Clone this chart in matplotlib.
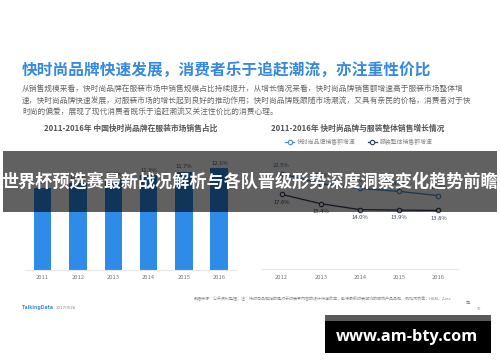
import matplotlib
matplotlib.use("Agg")
import matplotlib.pyplot as plt
from matplotlib.patches import Rectangle

plt.rcParams['font.family'] = ['Noto Sans CJK SC', 'DejaVu Sans']

# ---- data ----
bar_years = ['2011', '2012', '2013', '2014', '2015', '2016']
bar_share = [9.8, 10.4, 10.8, 11.3, 11.7, 12.1]

line_years = ['2012', '2013', '2014', '2015', '2016']
fast_growth = [22.5, 20.1, 19.0, 18.3, 17.3]
overall_growth = [17.6, 15.4, 14.0, 13.9, 13.8]
series_names = ['快时尚品牌销售额增速', '服装整体销售额增速']

title = '快时尚品牌快速发展，消费者乐于追赶潮流，亦注重性价比'
body_lines = [
    '从销售规模来看，快时尚品牌在服装市场中销售规模占比持续提升，从增长情况来看，快时尚品牌销售额增速高于服装市场整体增',
    '速，快时尚品牌快速发展，对服装市场的增长起到良好的推动作用；快时尚品牌既跟随市场潮流，又具有亲民的价格，消费者对于快',
    '时尚的偏爱，展现了现代消费者既乐于追赶潮流又关注性价比的消费心理。',
]
left_title = '2011-2016年 中国快时尚品牌在服装市场销售占比'
right_title = '2011-2016年 快时尚品牌与服装整体销售增长情况'
banner_text = '世界杯预选赛最新战况解析与各队晋级形势深度洞察变化趋势前瞻'
source_text = '数据来源：公开资料整理；注：快时尚品牌指的是对于时装界内容的设计快速反应，能将最新时装潮流的服饰产品品牌，例如优衣库，H&M，Zara'
watermark = 'www.am-bty.com'

W, H = 500, 362
fig = plt.figure(figsize=(5, 3.62), dpi=100)
fig.patch.set_facecolor('white')

def fx(x):
    return x / W

def fy(y):
    return 1 - y / H

# ---- header texts ----
fig.text(fx(22), fy(70), title, fontsize=11.3, fontweight='bold', color='#3589e0',
         ha='left', va='center')
for i, ln in enumerate(body_lines):
    fig.text(fx(22), fy(90 + i * 11.5), ln, fontsize=5.55, color='#666666',
             ha='left', va='center')
fig.text(fx(131), fy(128), left_title, fontsize=5.6, fontweight='bold', color='#555555',
         ha='center', va='center')
fig.text(fx(358), fy(128), right_title, fontsize=5.6, fontweight='bold', color='#555555',
         ha='center', va='center')

# ---- bar chart ----
base = 269.5
top = 150
ax1 = fig.add_axes([fx(25), fy(base), (237 - 25) / W, (base - top) / H])
px_per_pct_bar = 8.35
ax1.set_ylim(0, (base - top) / px_per_pct_bar)
ax1.set_xlim(-0.5, len(bar_years) - 0.5)
bars = ax1.bar(range(len(bar_years)), bar_share, width=0.5, color='#2e8be8')
for i, v in enumerate(bar_share):
    ax1.annotate(f'{v:.1f}%', (i, v), xytext=(0, 3.5), textcoords='offset points',
                 ha='center', va='center', fontsize=4.2, color='#555555')
ax1.set_xticks(range(len(bar_years)))
ax1.set_xticklabels(bar_years, fontsize=4.2, color='#777777')
ax1.tick_params(axis='x', length=0, pad=4)
ax1.set_yticks([])
for s in ['top', 'right', 'left']:
    ax1.spines[s].set_visible(False)
ax1.spines['bottom'].set_color('#e8e8e8')
ax1.spines['bottom'].set_linewidth(0.8)
ax1.patch.set_alpha(0)

# ---- line chart ----
base2 = 269
ax2 = fig.add_axes([fx(262), fy(base2), (458 - 262) / W, (base2 - top) / H])
px_per_pct_line = 4.24
ax2.set_ylim(0, (base2 - top) / px_per_pct_line)
ax2.set_xlim(-0.5, len(line_years) - 0.5)
xs = range(len(line_years))
c_fast = '#4a8cc6'
c_all = '#2e3b58'
ax2.plot(xs, fast_growth, color=c_fast, lw=0.9, marker='o', ms=3.2, mfc='white',
         mec=c_fast, mew=0.8, label=series_names[0])
ax2.plot(xs, overall_growth, color=c_all, lw=0.9, marker='o', ms=3.2, mfc='white',
         mec=c_all, mew=0.8, label=series_names[1])
for i, v in enumerate(fast_growth):
    ax2.annotate(f'{v:.1f}%', (i, v), xytext=(0, 6), textcoords='offset points',
                 ha='center', va='center', fontsize=4.2, color='#3f6f9c')
for i, v in enumerate(overall_growth):
    ax2.annotate(f'{v:.1f}%', (i, v), xytext=(0, -5.5), textcoords='offset points',
                 ha='center', va='center', fontsize=4.2, color='#3a4660')
ax2.set_xticks(list(xs))
ax2.set_xticklabels(line_years, fontsize=4.2, color='#777777')
ax2.tick_params(axis='x', length=0, pad=4)
ax2.set_yticks([])
for s in ['top', 'right', 'left']:
    ax2.spines[s].set_visible(False)
ax2.spines['bottom'].set_color('#e8e8e8')
ax2.spines['bottom'].set_linewidth(0.8)
ax2.patch.set_alpha(0)
leg = ax2.legend(loc='center left', bbox_to_anchor=(fx(285), fy(142)),
                 bbox_transform=fig.transFigure, ncol=2, frameon=False,
                 fontsize=4.2, handlelength=1.6, handletextpad=0.5,
                 columnspacing=2.0, borderpad=0, borderaxespad=0)
for t in leg.get_texts():
    t.set_color('#888888')

# ---- footer ----
fig.text(fx(22), fy(308), 'TalkingData', fontsize=3.3, fontweight='bold',
         color='#4a90d0', ha='left', va='center', family=['DejaVu Sans'])
fig.text(fx(56), fy(308), '2017/9/26', fontsize=2.9, color='#888888',
         ha='left', va='center', family=['DejaVu Sans'])
fig.text(fx(194), fy(299), source_text, fontsize=2.9, color='#888888',
         ha='left', va='center')
fig.text(fx(466), fy(303), '等。', fontsize=2.9, color='#888888', ha='left', va='center')
fig.text(fx(477), fy(309), '35', fontsize=2.9, color='#888888', ha='left', va='center')

# ---- banner overlay ----
fig.add_artist(Rectangle((fx(3), fy(212)), (497 - 3) / W, (212 - 151) / H,
                         transform=fig.transFigure, facecolor='black', alpha=0.62,
                         edgecolor='none', zorder=10))
fig.text(fx(250), fy(181.5), banner_text, fontsize=12.3, fontweight='bold', color='white',
         ha='center', va='center', zorder=11)

# ---- watermark box ----
fig.add_artist(Rectangle((fx(325), fy(353)), (491 - 325) / W, (353 - 315) / H,
                         transform=fig.transFigure, facecolor='black',
                         edgecolor='none', zorder=10))
fig.add_artist(Rectangle((fx(325), fy(321)), (491 - 325) / W, (321 - 315) / H,
                         transform=fig.transFigure, facecolor='#5a5a5a',
                         edgecolor='none', zorder=10))
fig.text(fx(407), fy(337), watermark, fontsize=11.8, fontweight='bold', color='white',
         ha='center', va='center', zorder=11, family=['Open Sans', 'DejaVu Sans'])

fig.savefig('out.png', dpi=100)
